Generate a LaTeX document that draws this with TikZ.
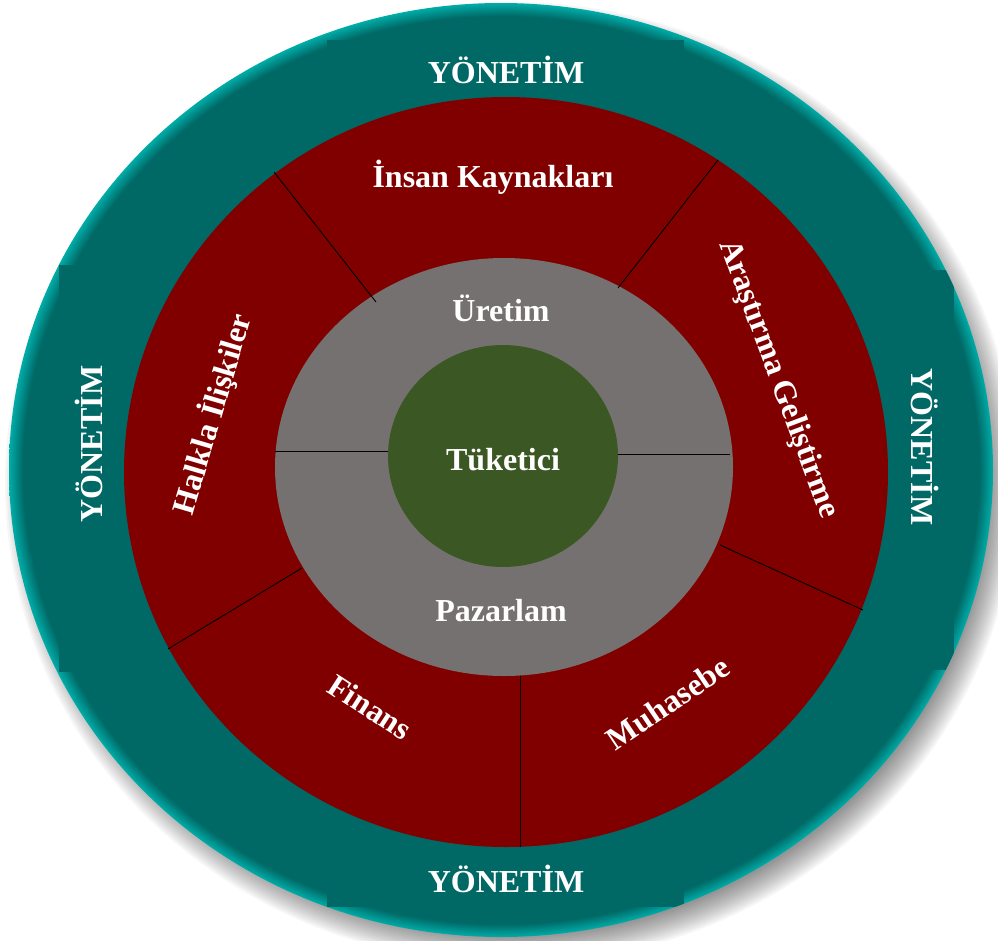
\documentclass[tikz,border=0pt]{standalone}
\usepackage{fontspec}
\setmainfont{Liberation Serif}
\definecolor{tealmain}{RGB}{0,105,102}
\definecolor{teallight}{RGB}{0,172,168}
\definecolor{ringred}{RGB}{128,0,0}
\definecolor{ringgray}{RGB}{117,113,112}
\definecolor{coregreen}{RGB}{59,87,36}
% bevelled rim of the outer disc
\pgfdeclareradialshading{tealrim}{\pgfpoint{0bp}{0bp}}{color(0bp)=(tealmain); color(24.3bp)=(tealmain); color(25bp)=(teallight); color(50bp)=(teallight)}
\tikzset{
  lbl/.style={text=white, font=\bfseries\fontsize{32}{37}\selectfont, inner sep=0pt},
  divider/.style={draw=black, line width=0.9pt},
  mgmtbox/.style={fill=tealmain},
}
\begin{document}
\begin{tikzpicture}[x=1pt,y=-1pt]
\useasboundingbox (0,0) rectangle (998,940);

% soft drop shadow under the disc
\foreach \k in {0,...,14} {
  \fill[black, opacity=0.035] (511,483) ellipse [x radius={478+2*\k}, y radius={453+2*\k}];
}

% outer management ring
\shade[shading=tealrim] (501,470) ellipse [x radius=492, y radius=467];
\begin{scope}
  \clip (501,470) ellipse [x radius=492, y radius=467];
  \fill[mgmtbox] (327,40) rectangle (684,120);
  \fill[mgmtbox] (327,830) rectangle (684,907);
  \fill[mgmtbox] (59,265) rectangle (140,672);
  \fill[mgmtbox] (862,270) rectangle (954,670);
\end{scope}

% department ring and production ring
\fill[ringred] (506,472) ellipse [x radius=382, y radius=375];
\fill[ringgray] (504,467) ellipse [x radius=229, y radius=209];

% dividers between the departments
\coordinate (ula) at (274,172);  \coordinate (ulb) at (376,302);
\coordinate (ura) at (718,160);  \coordinate (urb) at (618,288);
\coordinate (lra) at (863,610);  \coordinate (lrb) at (720,545);
\coordinate (bta) at (520,847);  \coordinate (btb) at (520,676);
\coordinate (lla) at (168,649);  \coordinate (llb) at (302,568);
\coordinate (gla) at (275,451);  \coordinate (glb) at (390,451);
\coordinate (gra) at (730,454);  \coordinate (grb) at (615,454);
\draw[divider] (ula) -- (ulb);
\draw[divider] (ura) -- (urb);
\draw[divider] (lra) -- (lrb);
\draw[divider] (bta) -- (btb);
\draw[divider] (lla) -- (llb);
\draw[divider] (gla) -- (glb);
\draw[divider] (gra) -- (grb);

% consumer at the core
\fill[coregreen] (503,456) ellipse [x radius=115, y radius=111];

% labels
\node[lbl] (ytop) at (506,70) {YÖNETİM};
\node[lbl] (ybot) at (506,879) {YÖNETİM};
\node[lbl, rotate=90] (yleft) at (89,444) {YÖNETİM};
\node[lbl, rotate=-90] (yright) at (925,447) {YÖNETİM};
\node[lbl] (ik) at (493,177) {İnsan Kaynakları};
\node[lbl, rotate=73.5] (hi) at (212,414) {Halkla İlişkiler};
\node[lbl, rotate=-69.5] (ag) at (778,379) {Araştırma Geliştirme};
\node[lbl, rotate=-33] (fin) at (370,707) {Finans};
\node[lbl, rotate=34] (muh) at (668,703) {Muhasebe};
\node[lbl] (ur) at (501,308) {Üretim};
\node[lbl] (tk) at (503,460) {Tüketici};
\node[lbl] (pz) at (501,611) {Pazarlam};
\end{tikzpicture}
\end{document}
